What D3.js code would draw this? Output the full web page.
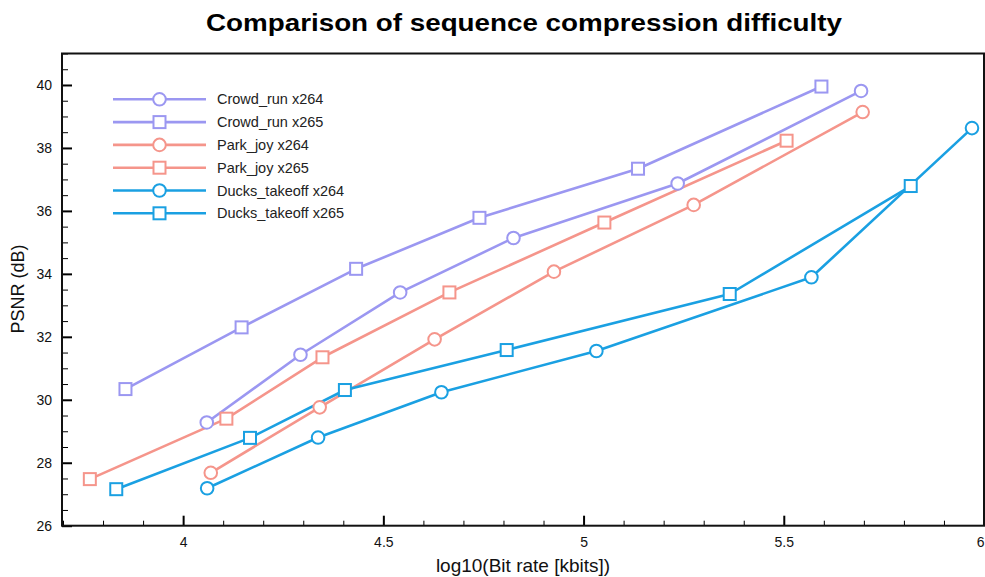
<!DOCTYPE html>
<html>
<head>
<meta charset="utf-8">
<script src="https://cdn.jsdelivr.net/npm/d3@7"></script>
<style>
  html, body { margin: 0; padding: 0; background: #fff; }
  svg { display: block; font-family: "Liberation Sans", Arial, Helvetica, sans-serif; }
</style>
</head>
<body>
<svg id="chart" width="985" height="577"></svg>
<script>
// ---- data ----
const seriesNames = ["Crowd_run x264", "Crowd_run x265", "Park_joy x264", "Park_joy x265", "Ducks_takeoff x264", "Ducks_takeoff x265"];
const seriesShapes = ["circle", "square", "circle", "square", "circle", "square"];
const seriesColors = ["#9b97f1", "#9b97f1", "#f5958b", "#f5958b", "#1aa0e2", "#1aa0e2"];

const crowdX264_x = [4.059, 4.293, 4.542, 4.825, 5.235, 5.693];
const crowdX264_y = [29.28, 31.43, 33.41, 35.14, 36.87, 39.81];
const crowdX265_x = [3.856, 4.146, 4.432, 4.740, 5.136, 5.594];
const crowdX265_y = [30.34, 32.30, 34.16, 35.78, 37.34, 39.95];
const parkX264_x = [4.069, 4.341, 4.628, 4.926, 5.275, 5.697];
const parkX264_y = [27.68, 29.76, 31.92, 34.07, 36.19, 39.14];
const parkX265_x = [3.767, 4.108, 4.348, 4.665, 5.052, 5.507];
const parkX265_y = [27.48, 29.40, 31.35, 33.41, 35.63, 38.23];
const ducksX264_x = [4.060, 4.337, 4.645, 5.032, 5.569, 5.970];
const ducksX264_y = [27.19, 28.80, 30.24, 31.55, 33.89, 38.63];
const ducksX265_x = [3.833, 4.167, 4.404, 4.808, 5.365, 5.817];
const ducksX265_y = [27.16, 28.79, 30.31, 31.58, 33.36, 36.79];

const xTickValues = [4, 4.5, 5, 5.5, 6];
const xTickLabels = ["4", "4.5", "5", "5.5", "6"];
const yTickValues = [26, 28, 30, 32, 34, 36, 38, 40];
const yTickLabels = ["26", "28", "30", "32", "34", "36", "38", "40"];

const titleText = "Comparison of sequence compression difficulty";
const xLabelText = "log10(Bit rate [kbits])";
const yLabelText = "PSNR (dB)";

// ---- build ----
const seriesX = [crowdX264_x, crowdX265_x, parkX264_x, parkX265_x, ducksX264_x, ducksX265_x];
const seriesY = [crowdX264_y, crowdX265_y, parkX264_y, parkX265_y, ducksX264_y, ducksX265_y];
const series = seriesNames.map((name, i) => ({
  name, shape: seriesShapes[i], color: seriesColors[i],
  points: seriesX[i].map((xv, j) => ({ x: xv, y: seriesY[i][j] }))
}));

const svg = d3.select("#chart");
const plotLeft = 62, plotRight = 984, plotTop = 53.5, plotBottom = 525.7;

const x = d3.scaleLinear().domain([3.7, 6]).range([63, 984]);
const y = d3.scaleLinear().domain([26, 41]).range([plotBottom, plotTop]);

// Title
svg.append("text")
  .attr("x", 524).attr("y", 31)
  .attr("text-anchor", "middle")
  .attr("font-size", 23).attr("font-weight", "bold")
  .attr("textLength", 636).attr("lengthAdjust", "spacingAndGlyphs")
  .attr("fill", "#000")
  .text(titleText);

// Minor ticks
const xMinor = d3.range(37, 61).map(v => v / 10).filter(v => !xTickValues.some(t => Math.abs(t - v) < 1e-9));
const yMinor = d3.range(52, 83).map(v => v / 2).filter(v => !yTickValues.includes(v));

svg.append("g")
  .attr("transform", `translate(0,${plotBottom})`)
  .call(d3.axisBottom(x).tickValues(xMinor).tickSize(-5).tickFormat(""))
  .call(g => g.select(".domain").remove())
  .call(g => g.selectAll("line").attr("stroke", "#000").attr("stroke-width", 1));

svg.append("g")
  .attr("transform", `translate(${plotLeft},0)`)
  .call(d3.axisLeft(y).tickValues(yMinor).tickSize(-6).tickFormat(""))
  .call(g => g.select(".domain").remove())
  .call(g => g.selectAll("line").attr("stroke", "#000").attr("stroke-width", 1));

// Major ticks
svg.append("g")
  .attr("transform", `translate(0,${plotBottom})`)
  .call(d3.axisBottom(x).tickValues(xTickValues).tickSize(-10).tickPadding(11)
    .tickFormat((d, i) => xTickLabels[i]))
  .call(g => g.select(".domain").remove())
  .call(g => g.selectAll("line").attr("stroke", "#000").attr("stroke-width", 2))
  .call(g => g.selectAll("text").attr("font-size", 14).attr("fill", "#111")
    .attr("font-family", "'Liberation Sans', Arial, sans-serif")
    .attr("text-anchor", d => x(d) + 5 > 985 ? "end" : "middle")
    .attr("dx", d => x(d) + 5 > 985 ? 0 : null));

svg.append("g")
  .attr("transform", `translate(${plotLeft},0)`)
  .call(d3.axisLeft(y).tickValues(yTickValues).tickSize(-10).tickPadding(10)
    .tickFormat((d, i) => yTickLabels[i]))
  .call(g => g.select(".domain").remove())
  .call(g => g.selectAll("line").attr("stroke", "#000").attr("stroke-width", 2))
  .call(g => g.selectAll("text").attr("font-size", 14).attr("fill", "#111")
    .attr("font-family", "'Liberation Sans', Arial, sans-serif"));

// Frame
svg.append("rect")
  .attr("x", plotLeft).attr("y", plotTop)
  .attr("width", plotRight - plotLeft).attr("height", plotBottom - plotTop)
  .attr("fill", "none").attr("stroke", "#111").attr("stroke-width", 2);

// Axis labels
svg.append("text")
  .attr("x", 523).attr("y", 572)
  .attr("text-anchor", "middle")
  .attr("font-size", 19).attr("fill", "#111")
  .text(xLabelText);

svg.append("text")
  .attr("transform", "translate(24,289) rotate(-90)")
  .attr("text-anchor", "middle")
  .attr("font-size", 18).attr("fill", "#111")
  .text(yLabelText);

// Lines
const line = d3.line().x(d => x(d.x)).y(d => y(d.y));
const plot = svg.append("g");

function drawMarker(g, shape, color, cx, cy) {
  if (shape === "circle") {
    g.append("circle").attr("cx", cx).attr("cy", cy).attr("r", 6.3)
      .attr("fill", "#fff").attr("stroke", color).attr("stroke-width", 2);
  } else {
    g.append("rect").attr("x", cx - 6).attr("y", cy - 6).attr("width", 12).attr("height", 12)
      .attr("fill", "#fff").attr("stroke", color).attr("stroke-width", 2);
  }
}

series.forEach(s => {
  plot.append("path").datum(s.points)
    .attr("d", line).attr("fill", "none")
    .attr("stroke", s.color).attr("stroke-width", 2.6)
    .attr("stroke-linejoin", "round");
});
series.forEach(s => {
  const g = plot.append("g");
  s.points.forEach(p => drawMarker(g, s.shape, s.color, x(p.x), y(p.y)));
});

// Legend
const legend = svg.append("g");
series.forEach((s, i) => {
  const ly = 99.3 + i * 22.8;
  legend.append("line").attr("x1", 113).attr("x2", 206).attr("y1", ly).attr("y2", ly)
    .attr("stroke", s.color).attr("stroke-width", 2.6);
  drawMarker(legend, s.shape, s.color, 159.5, ly);
  legend.append("text").attr("x", 217).attr("y", ly).attr("dy", "0.35em")
    .attr("font-size", 14.5).attr("fill", "#222").text(s.name);
});
</script>
</body>
</html>
